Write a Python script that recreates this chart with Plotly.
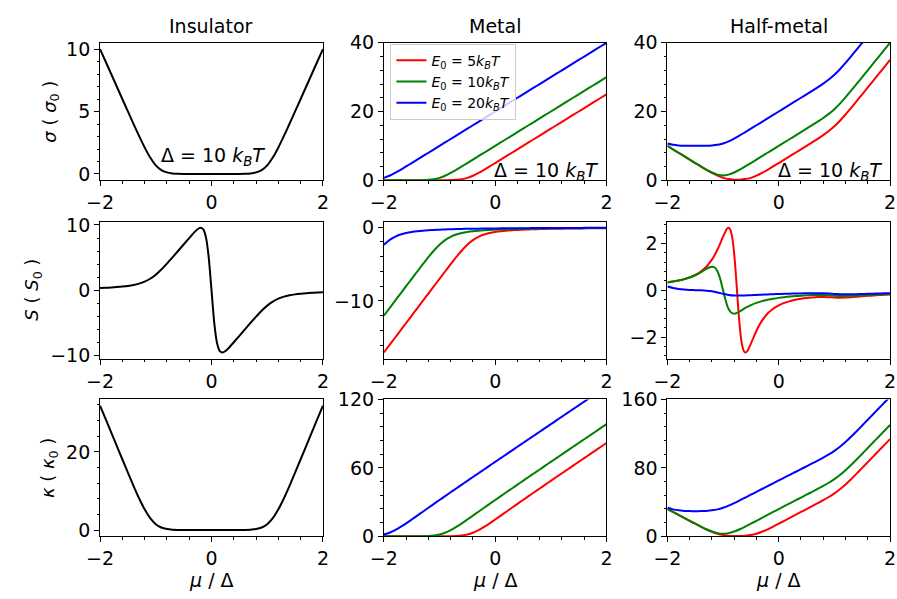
import plotly.graph_objects as go

# ---------------- data ----------------
mu = [-2.0, -1.9, -1.8, -1.7, -1.6, -1.5, -1.4, -1.3, -1.2, -1.1, -1.0, -0.9, -0.8, -0.7,
      -0.6, -0.5, -0.4, -0.3, -0.2, -0.1, 0.0, 0.1, 0.2, 0.3, 0.4, 0.5, 0.6, 0.7, 0.8, 0.9,
      1.0, 1.1, 1.2, 1.3, 1.4, 1.5, 1.6, 1.7, 1.8, 1.9, 2.0]

legend_names = ["<i>E</i><sub>0</sub> = 5<i>k</i><sub><i>B</i></sub><i>T</i>",
                "<i>E</i><sub>0</sub> = 10<i>k</i><sub><i>B</i></sub><i>T</i>",
                "<i>E</i><sub>0</sub> = 20<i>k</i><sub><i>B</i></sub><i>T</i>"]
col_titles = ["Insulator", "Metal", "Half-metal"]
row_labels = ["<i>σ</i> ( <i>σ</i><sub>0</sub> )", "<i>S</i> ( <i>S</i><sub>0</sub> )",
              "<i>κ</i> ( <i>κ</i><sub>0</sub> )"]
x_label = "<i>μ</i> / Δ"
gap_text = "Δ = 10 <i>k</i><sub><i>B</i></sub><i>T</i>"

# Insulator
ins_sigma = [10.00, 9.00, 8.00, 7.00, 6.00, 5.007, 4.018, 3.049, 2.127, 1.313, 0.693, 0.313, 0.127,
             0.049, 0.018, 0.007, 0.002, 0.001, 0.000, 0.000, 0.000, 0.000, 0.000, 0.001, 0.002,
             0.007, 0.018, 0.049, 0.127, 0.313, 0.693, 1.313, 2.127, 3.049, 4.018, 5.007, 6.00,
             7.00, 8.00, 9.00, 10.00]
ins_S_mu = [-2.0, -1.9, -1.8, -1.7, -1.6, -1.5, -1.4, -1.3, -1.2, -1.1, -1.0, -0.9, -0.8, -0.7,
            -0.6, -0.5, -0.4, -0.35, -0.3, -0.25, -0.2, -0.15, -0.1, -0.05, 0.0, 0.05, 0.1, 0.15,
            0.2, 0.25, 0.3, 0.35, 0.4, 0.5, 0.6, 0.7, 0.8, 0.9, 1.0, 1.1, 1.2, 1.3, 1.4, 1.5, 1.6,
            1.7, 1.8, 1.9, 2.0]
ins_S = [0.329, 0.365, 0.411, 0.469, 0.545, 0.648, 0.792, 0.999, 1.304, 1.751, 2.373, 3.162, 4.064,
         5.024, 6.009, 7.003, 7.992, 8.478, 8.941, 9.339, 9.568, 9.362, 8.139, 5.045, 0.0, -5.045,
         -8.139, -9.362, -9.568, -9.339, -8.941, -8.478, -7.992, -7.003, -6.009, -5.024, -4.064,
         -3.162, -2.373, -1.751, -1.304, -0.999, -0.792, -0.648, -0.545, -0.469, -0.411, -0.365,
         -0.329]
ins_kappa = [31.82, 28.42, 25.00, 21.56, 18.12, 14.69, 11.33, 8.15, 5.32, 3.05, 1.51, 0.65, 0.26,
             0.10, 0.04, 0.01, 0.00, 0.00, 0.00, 0.00, 0.00, 0.00, 0.00, 0.00, 0.00, 0.01, 0.04,
             0.10, 0.26, 0.65, 1.51, 3.05, 5.32, 8.15, 11.33, 14.69, 18.12, 21.56, 25.00, 28.42,
             31.82]

# Metal
met_sigma_r = [0.0, 0.0, 0.0, 0.0, 0.0, 0.0, 0.0001, 0.0003, 0.0009, 0.0025, 0.0067, 0.0182, 0.0486,
               0.1269, 0.3133, 0.6931, 1.3133, 2.1269, 3.0486, 4.0182, 5.0067, 6.0025, 7.0009,
               8.0003, 9.0001, 10.0, 11.0, 12.0, 13.0, 14.0, 15.0, 16.0, 17.0, 18.0, 19.0, 20.0,
               21.0, 22.0, 23.0, 24.0, 25.0]
met_sigma_g = [0.0, 0.0001, 0.0003, 0.0009, 0.0025, 0.0067, 0.0182, 0.0486, 0.1269, 0.3133, 0.6931,
               1.3133, 2.1269, 3.0486, 4.0182, 5.0067, 6.0025, 7.0009, 8.0003, 9.0001, 10.0, 11.0,
               12.0, 13.0, 14.0, 15.0, 16.0, 17.0, 18.0, 19.0, 20.0, 21.0, 22.0, 23.0, 24.0, 25.0,
               26.0, 27.0, 28.0, 29.0, 30.0]
met_sigma_b = [0.6931, 1.3133, 2.1269, 3.0486, 4.0182, 5.0067, 6.0025, 7.0009, 8.0003, 9.0001, 10.0,
               11.0, 12.0, 13.0, 14.0, 15.0, 16.0, 17.0, 18.0, 19.0, 20.0, 21.0, 22.0, 23.0, 24.0,
               25.0, 26.0, 27.0, 28.0, 29.0, 30.0, 31.0, 32.0, 33.0, 34.0, 35.0, 36.0, 37.0, 38.0,
               39.0, 40.0]
met_S_r = [-17.0, -16.0, -15.0, -14.0, -13.0, -12.0, -11.0, -10.0, -9.0, -8.0, -7.003, -6.009, -5.024,
           -4.064, -3.162, -2.373, -1.751, -1.304, -0.999, -0.792, -0.648, -0.545, -0.469, -0.411,
           -0.365, -0.329, -0.299, -0.274, -0.253, -0.235, -0.219, -0.206, -0.194, -0.183, -0.173,
           -0.164, -0.157, -0.150, -0.143, -0.137, -0.132]
met_S_g = [-12.0, -11.0, -10.0, -9.0, -8.0, -7.003, -6.009, -5.024, -4.064, -3.162, -2.373, -1.751,
           -1.304, -0.999, -0.792, -0.648, -0.545, -0.469, -0.411, -0.365, -0.329, -0.299, -0.274,
           -0.253, -0.235, -0.219, -0.206, -0.194, -0.183, -0.173, -0.164, -0.157, -0.150, -0.143,
           -0.137, -0.132, -0.127, -0.122, -0.117, -0.113, -0.110]
met_S_b = [-2.373, -1.751, -1.304, -0.999, -0.792, -0.648, -0.545, -0.469, -0.411, -0.365, -0.329,
           -0.299, -0.274, -0.253, -0.235, -0.219, -0.206, -0.194, -0.183, -0.173, -0.164, -0.157,
           -0.150, -0.143, -0.137, -0.132, -0.127, -0.122, -0.117, -0.113, -0.110, -0.106, -0.103,
           -0.100, -0.097, -0.094, -0.091, -0.089, -0.087, -0.084, -0.082]
met_kappa_r = [0.0, 0.0, 0.0, 0.0, 0.0, 0.0001, 0.0002, 0.0007, 0.0018, 0.0050, 0.0134, 0.0364,
               0.0978, 0.2579, 0.6512, 1.5056, 3.047, 5.316, 8.151, 11.333, 14.692, 18.12, 21.56,
               25.00, 28.42, 31.82, 35.20, 38.58, 41.94, 45.29, 48.63, 51.96, 55.29, 58.62, 61.94,
               65.26, 68.57, 71.89, 75.20, 78.51, 81.82]
met_kappa_g = [0.0001, 0.0002, 0.0007, 0.0018, 0.0050, 0.0134, 0.0364, 0.0978, 0.2579, 0.6512,
               1.5056, 3.047, 5.316, 8.151, 11.333, 14.692, 18.12, 21.56, 25.00, 28.42, 31.82,
               35.20, 38.58, 41.94, 45.29, 48.63, 51.96, 55.29, 58.62, 61.94, 65.26, 68.57, 71.89,
               75.20, 78.51, 81.82, 85.12, 88.43, 91.73, 95.04, 98.34]
met_kappa_b = [1.5056, 3.047, 5.316, 8.151, 11.333, 14.692, 18.12, 21.56, 25.00, 28.42, 31.82,
               35.20, 38.58, 41.94, 45.29, 48.63, 51.96, 55.29, 58.62, 61.94, 65.26, 68.57, 71.89,
               75.20, 78.51, 81.82, 85.12, 88.43, 91.73, 95.04, 98.34, 101.64, 104.94, 108.24,
               111.54, 114.84, 118.14, 121.44, 124.73, 128.03, 131.33]

# Half-metal
hm_sigma_r = [10.00, 9.00, 8.00, 7.00, 6.00, 5.01, 4.02, 3.05, 2.13, 1.32, 0.70, 0.33, 0.176, 0.176,
              0.33, 0.70, 1.32, 2.13, 3.05, 4.02, 5.01, 6.00, 7.00, 8.00, 9.00, 10.01, 11.02, 12.05,
              13.13, 14.31, 15.69, 17.31, 19.13, 21.05, 23.02, 25.01, 27.00, 29.00, 31.00, 33.00,
              35.00]
hm_sigma_g = [10.00, 9.00, 8.00, 7.00, 6.01, 5.01, 4.04, 3.10, 2.25, 1.63, 1.39, 1.63, 2.25, 3.10,
              4.04, 5.01, 6.01, 7.00, 8.00, 9.00, 10.00, 11.00, 12.00, 13.00, 14.00, 15.01, 16.02,
              17.05, 18.13, 19.31, 20.69, 22.31, 24.13, 26.05, 28.02, 30.01, 32.00, 34.00, 36.00,
              38.00, 40.00]
hm_sigma_b = [10.69, 10.31, 10.13, 10.05, 10.02, 10.01, 10.02, 10.05, 10.13, 10.31, 10.69, 11.31,
              12.13, 13.05, 14.02, 15.01, 16.00, 17.00, 18.00, 19.00, 20.00, 21.00, 22.00, 23.00,
              24.00, 25.01, 26.02, 27.05, 28.13, 29.31, 30.69, 32.31, 34.13, 36.05, 38.02, 40.01,
              42.00, 44.00, 46.00, 48.00, 50.00]
hm_S_r_mu = [-2.0, -1.9, -1.8, -1.7, -1.6, -1.5, -1.4, -1.3, -1.2, -1.15, -1.1, -1.05, -1.0, -0.95,
             -0.925, -0.9, -0.875, -0.85, -0.825, -0.8, -0.775, -0.75, -0.725, -0.7, -0.675, -0.65,
             -0.625, -0.6, -0.575, -0.55, -0.5, -0.45, -0.4, -0.35, -0.3, -0.2, -0.1, 0.0, 0.1,
             0.2, 0.3, 0.4, 0.5, 0.6, 0.7, 0.8, 0.9, 1.0, 1.1, 1.2, 1.3, 1.4, 1.5, 1.6, 1.7, 1.8,
             1.9, 2.0]
hm_S_r = [0.329, 0.365, 0.411, 0.469, 0.545, 0.648, 0.791, 0.998, 1.300, 1.498, 1.733, 2.000, 2.283,
          2.539, 2.627, 2.660, 2.607, 2.430, 2.085, 1.548, 0.830, 0.0, -0.830, -1.548, -2.085,
          -2.430, -2.607, -2.660, -2.627, -2.539, -2.283, -2.000, -1.733, -1.498, -1.300, -0.998,
          -0.791, -0.648, -0.545, -0.469, -0.412, -0.368, -0.333, -0.309, -0.293, -0.290, -0.299,
          -0.315, -0.323, -0.317, -0.301, -0.281, -0.261, -0.243, -0.227, -0.212, -0.199, -0.188]
hm_S_g_mu = [-2.0, -1.9, -1.8, -1.7, -1.6, -1.5, -1.4, -1.3, -1.25, -1.2, -1.15, -1.1, -1.05, -1.0,
             -0.95, -0.9, -0.85, -0.8, -0.75, -0.7, -0.6, -0.5, -0.4, -0.3, -0.2, -0.1, 0.0, 0.1,
             0.2, 0.3, 0.4, 0.5, 0.6, 0.7, 0.8, 0.9, 1.0, 1.1, 1.2, 1.3, 1.4, 1.5, 1.6, 1.7, 1.8,
             1.9, 2.0]
hm_S_g = [0.329, 0.365, 0.410, 0.468, 0.541, 0.637, 0.761, 0.905, 0.968, 1.002, 0.966, 0.805, 0.472,
          0.000, -0.472, -0.805, -0.966, -1.002, -0.968, -0.905, -0.761, -0.637, -0.541, -0.468,
          -0.410, -0.365, -0.329, -0.299, -0.274, -0.254, -0.236, -0.222, -0.212, -0.207, -0.210,
          -0.222, -0.238, -0.250, -0.251, -0.243, -0.231, -0.218, -0.205, -0.193, -0.183, -0.173,
          -0.164]
hm_S_b = [0.154, 0.096, 0.051, 0.024, 0.009, 0.000, -0.009, -0.024, -0.051, -0.096, -0.154, -0.203,
          -0.229, -0.233, -0.227, -0.216, -0.204, -0.193, -0.183, -0.173, -0.165, -0.157, -0.150,
          -0.143, -0.138, -0.133, -0.131, -0.131, -0.135, -0.146, -0.161, -0.173, -0.178, -0.176,
          -0.170, -0.163, -0.156, -0.149, -0.143, -0.137, -0.132]
hm_kappa_r = [31.82, 28.42, 25.00, 21.56, 18.12, 14.69, 11.33, 8.15, 5.32, 3.05, 1.52, 0.69, 0.36,
              0.36, 0.69, 1.52, 3.05, 5.32, 8.15, 11.33, 14.69, 18.12, 21.56, 25.00, 28.42, 31.83,
              35.24, 38.68, 42.20, 45.94, 50.14, 55.01, 60.61, 66.77, 73.27, 79.95, 86.69, 93.45,
              100.20, 106.93, 113.64]
hm_kappa_g = [31.82, 28.42, 25.00, 21.56, 18.13, 14.70, 11.37, 8.25, 5.58, 3.70, 3.01, 3.70, 5.58,
              8.25, 11.37, 14.70, 18.12, 21.56, 25.00, 28.42, 31.82, 35.20, 38.58, 41.94, 45.29,
              48.64, 52.00, 55.39, 58.88, 62.59, 66.77, 71.62, 77.21, 83.35, 89.84, 96.51, 103.24,
              109.99, 116.73, 123.46, 130.16]
hm_kappa_b = [33.33, 31.47, 30.32, 29.71, 29.45, 29.38, 29.45, 29.71, 30.32, 31.47, 33.33, 35.85,
              38.84, 42.04, 45.33, 48.64, 51.96, 55.29, 58.62, 61.94, 65.26, 68.57, 71.89, 75.20,
              78.51, 81.83, 85.16, 88.53, 91.99, 95.69, 99.85, 104.69, 110.26, 116.39, 122.87,
              129.53, 136.26, 143.00, 149.73, 156.45, 163.15]

# ---------------- styling / layout ----------------
RED, GREEN, BLUE, BLACK = "#ff0000", "#008000", "#0000ff", "#000000"
FONT = "DejaVu Sans"
FS = 19
W, H = 897, 599
col_px = [(88.0, 316.0), (378.3, 606.0), (668.3, 896.0)]
row_px = [(33.0, 175.7), (218.6, 361.0), (403.3, 545.3)]

fig = go.Figure()


def add(panel, x, y, color, name=None, legend=False):
    s = "" if panel == 1 else str(panel)
    fig.add_trace(go.Scatter(x=x, y=y, mode="lines", name=name, showlegend=legend,
                             line=dict(color=color, width=2, shape="spline", smoothing=0.7),
                             xaxis="x" + s, yaxis="y" + s, hoverinfo="skip"))


add(1, mu, ins_sigma, BLACK)
add(4, ins_S_mu, ins_S, BLACK)
add(7, mu, ins_kappa, BLACK)
for arr, c, nm in [(met_sigma_r, RED, legend_names[0]), (met_sigma_g, GREEN, legend_names[1]),
                   (met_sigma_b, BLUE, legend_names[2])]:
    add(2, mu, arr, c, nm, True)
add(5, mu, met_S_r, RED)
add(5, mu, met_S_g, GREEN)
add(5, mu, met_S_b, BLUE)
add(8, mu, met_kappa_r, RED)
add(8, mu, met_kappa_g, GREEN)
add(8, mu, met_kappa_b, BLUE)
add(3, mu, hm_sigma_r, RED)
add(3, mu, hm_sigma_g, GREEN)
add(3, mu, hm_sigma_b, BLUE)
add(6, hm_S_r_mu, hm_S_r, RED)
add(6, hm_S_g_mu, hm_S_g, GREEN)
add(6, mu, hm_S_b, BLUE)
add(9, mu, hm_kappa_r, RED)
add(9, mu, hm_kappa_g, GREEN)
add(9, mu, hm_kappa_b, BLUE)


def auto(*arrs):
    lo = min(min(a) for a in arrs)
    hi = max(max(a) for a in arrs)
    d = 0.05 * (hi - lo)
    return [lo - d, hi + d]


yspec = {
    1: (auto(ins_sigma), 5, 1),
    2: ([0, 40], 20, 4),
    3: ([0, 40], 20, 4),
    4: (auto(ins_S), 10, 2),
    5: (auto(met_S_r, met_S_g, met_S_b), 10, 2),
    6: (auto(hm_S_r, hm_S_g, hm_S_b), 2, 0.4),
    7: (auto(ins_kappa), 20, 4),
    8: ([0, 120], 60, 12),
    9: ([0, 160], 80, 16),
}

common = dict(ticks="outside", ticklen=5, tickwidth=1, tickcolor="black", showline=True,
              linecolor="black", linewidth=1, mirror=True, showgrid=False, zeroline=False,
              tickfont=dict(family=FONT, size=FS, color="black"), fixedrange=True,
              tickmode="linear")

layout = {}
for p in range(1, 10):
    r, c = (p - 1) // 3, (p - 1) % 3
    s = "" if p == 1 else str(p)
    xd = [col_px[c][0] / W, col_px[c][1] / W]
    yd = [1 - row_px[r][1] / H, 1 - row_px[r][0] / H]
    rng, dt, mdt = yspec[p]
    layout["xaxis" + s] = dict(common, domain=xd, range=[-2, 2], tick0=-2, dtick=2,
                               anchor="y" + s,
                               minor=dict(tick0=-2, dtick=0.4, ticks="outside", ticklen=2.5,
                                          tickwidth=1, tickcolor="black", showgrid=False))
    layout["yaxis" + s] = dict(common, domain=yd, range=rng, tick0=0, dtick=dt,
                               anchor="x" + s,
                               minor=dict(tick0=0, dtick=mdt, ticks="outside", ticklen=2.5,
                                          tickwidth=1, tickcolor="black", showgrid=False))

ann = []
for c, t in enumerate(col_titles):
    ann.append(dict(text=t, x=(col_px[c][0] + col_px[c][1]) / 2 / W, y=1 - 16 / H,
                    xref="paper", yref="paper", showarrow=False, xanchor="center",
                    yanchor="middle", font=dict(family=FONT, size=FS, color="black")))
    ann.append(dict(text=x_label, x=(col_px[c][0] + col_px[c][1]) / 2 / W, y=1 - 591 / H,
                    xref="paper", yref="paper", showarrow=False, xanchor="center",
                    yanchor="middle", font=dict(family=FONT, size=FS, color="black")))
ylab_x = [37, 20, 36]
for r, t in enumerate(row_labels):
    ann.append(dict(text=t, x=ylab_x[r] / W, y=1 - (row_px[r][0] + row_px[r][1]) / 2 / H,
                    xref="paper", yref="paper", showarrow=False, xanchor="center",
                    yanchor="middle", textangle=-90,
                    font=dict(family=FONT, size=FS - 1, color="black")))
for (px, py) in [(203.5, 151), (544.5, 167), (834.5, 167)]:
    ann.append(dict(text=gap_text, x=px / W, y=1 - py / H, xref="paper", yref="paper",
                    showarrow=False, xanchor="center", yanchor="middle",
                    font=dict(family=FONT, size=FS, color="black")))

fig.update_layout(
    width=W, height=H, margin=dict(l=0, r=0, t=0, b=0), paper_bgcolor="white",
    plot_bgcolor="white", annotations=ann,
    legend=dict(x=385 / W, y=1 - 34 / H, xanchor="left", yanchor="top",
                bgcolor="rgba(255,255,255,0.8)", bordercolor="#cccccc", borderwidth=1,
                font=dict(family=FONT, size=14, color="black"), tracegroupgap=0,
                itemwidth=30),
    **layout,
)

fig.write_html("out.html")
